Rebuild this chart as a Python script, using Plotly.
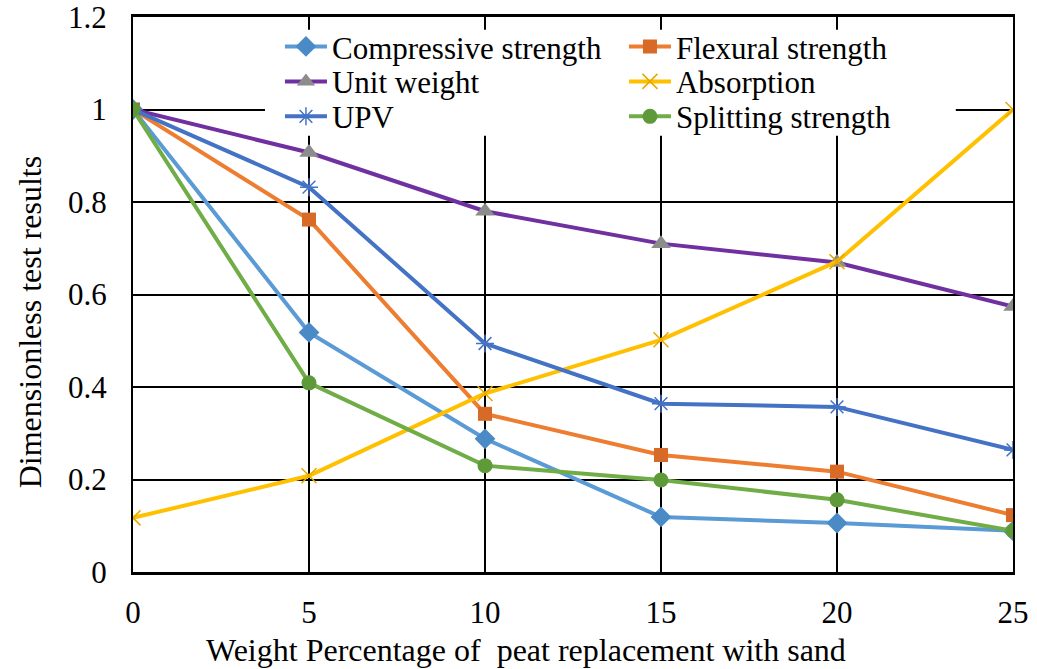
import plotly.graph_objects as go

# Peat replacement levels (% by weight of sand)
peat_pct = [0, 5, 10, 15, 20, 25]

# Normalised (dimensionless) test results
compressive = [1.0, 0.518, 0.288, 0.119, 0.106, 0.089]
flexural = [1.0, 0.762, 0.342, 0.253, 0.217, 0.123]
unit_weight = [1.0, 0.907, 0.780, 0.710, 0.669, 0.574]
absorption = [0.117, 0.208, 0.386, 0.502, 0.671, 1.0]
upv = [1.0, 0.832, 0.494, 0.364, 0.357, 0.264]
splitting = [1.0, 0.409, 0.230, 0.199, 0.156, 0.089]

y_ticks = [0, 0.2, 0.4, 0.6, 0.8, 1.0, 1.2]
y_tick_text = ["0", "0.2", "0.4", "0.6", "0.8", "1", "1.2"]

x_title = "Weight Percentage of  peat replacement with sand"
y_title = "Dimensionless test results"

FONT = "Liberation Serif, Times New Roman, serif"

# name, values, line colour, marker symbol, marker colour, marker size, marker outline, legend row
series = [
    ("Compressive strength", compressive, "#5B9BD5", "diamond", "#4A8AC6", 16, None, "legend"),
    ("Flexural strength", flexural, "#ED7D31", "square", "#D66A26", 14, None, "legend"),
    ("Unit weight", unit_weight, "#7030A0", "triangle-up", "#8C8C8C", 17, None, "legend2"),
    ("Absorption", absorption, "#FFC000", "x-thin-open", "#E6A800", 15, 1.5, "legend2"),
    ("UPV", upv, "#4472C4", "asterisk-open", "#4472C4", 15, 1.5, "legend3"),
    ("Splitting strength", splitting, "#70AD47", "circle", "#5E9A3A", 15, None, "legend3"),
]

fig = go.Figure()
for name, vals, line_col, sym, mk_col, size, lw, leg in series:
    marker = dict(symbol=sym, size=size, color=mk_col)
    if lw is not None:
        marker["line"] = dict(color=mk_col, width=lw)
    else:
        marker["line"] = dict(width=0)
    fig.add_trace(go.Scatter(
        x=peat_pct, y=vals, name=name, mode="lines+markers",
        line=dict(color=line_col, width=4),
        marker=marker, legend=leg,
    ))


def legend_row(y_top):
    return dict(
        orientation="h",
        x=0.167, xanchor="left",
        y=y_top, yanchor="top",
        entrywidth=287, entrywidthmode="pixels",
        itemwidth=42,
        bgcolor="rgba(0,0,0,0)",
        font=dict(family=FONT, size=31, color="black"),
    )


fig.update_layout(
    width=1037, height=669,
    margin=dict(l=133, r=24, t=17, b=97),
    paper_bgcolor="white", plot_bgcolor="white",
    font=dict(family=FONT, size=31, color="black"),
    showlegend=True,
    legend=legend_row(0.995),
    legend2=legend_row(0.932),
    legend3=legend_row(0.869),
    xaxis=dict(
        range=[0, 25], automargin=False,
        tickmode="array", tickvals=peat_pct,
        showgrid=True, gridcolor="black", gridwidth=1.5,
        showline=True, linecolor="black", linewidth=2.5, mirror=True,
        ticks="", zeroline=False,
        ticklabelstandoff=11, ticklabeloverflow="allow",
        tickfont=dict(family=FONT, size=31),
    ),
    yaxis=dict(
        range=[0, 1.2], automargin=False,
        tickmode="array", tickvals=y_ticks, ticktext=y_tick_text,
        showgrid=True, gridcolor="black", gridwidth=1.5,
        showline=True, linecolor="black", linewidth=2, mirror=True,
        ticks="", zeroline=False,
        ticklabelstandoff=18, ticklabeloverflow="allow",
        tickfont=dict(family=FONT, size=31),
    ),
    # white backing for the legend block
    shapes=[dict(
        type="rect", xref="paper", yref="paper",
        x0=0.15, x1=0.935, y0=0.786, y1=0.977,
        fillcolor="white", line=dict(width=0), layer="above",
    )],
    annotations=[
        dict(text=x_title, xref="paper", yref="paper",
             x=0.447, y=-0.14, xanchor="center", yanchor="middle",
             showarrow=False, font=dict(family=FONT, size=32)),
        dict(text=y_title, xref="paper", yref="paper",
             x=-0.117, y=0.45, xanchor="center", yanchor="middle",
             textangle=-90, showarrow=False, font=dict(family=FONT, size=32)),
    ],
)

fig.write_html("out.html")
